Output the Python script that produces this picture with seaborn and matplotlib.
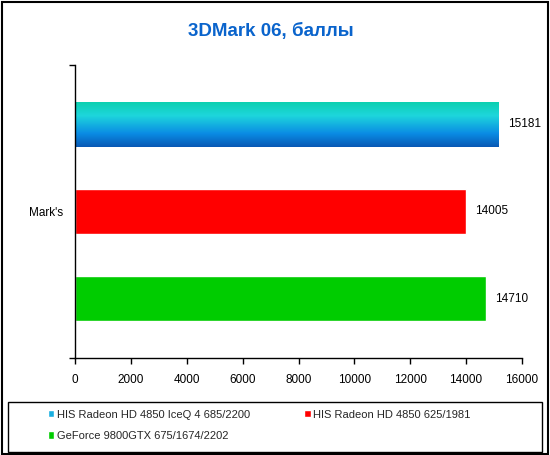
import matplotlib
matplotlib.use("Agg")
import matplotlib.pyplot as plt
import seaborn as sns
import pandas as pd
import numpy as np
from matplotlib.colors import LinearSegmentedColormap
from matplotlib.patches import Rectangle

# ---- data ----
title = "3DMark 06, баллы"
category = ["Mark's"]
cards = ["HIS Radeon HD 4850 IceQ 4 685/2200",
         "HIS Radeon HD 4850 625/1981",
         "GeForce 9800GTX 675/1674/2202"]
scores = [15181, 14005, 14710]
xticks = [0, 2000, 4000, 6000, 8000, 10000, 12000, 14000, 16000]
colors = ["#1AAFE0", "#FF0000", "#00CC00"]

sns.set_theme(style="white")
plt.rcParams['font.family'] = ['Liberation Sans', 'DejaVu Sans']

df = pd.DataFrame({"cat": category * len(cards), "card": cards, "score": scores})

W, H = 550, 455
fig = plt.figure(figsize=(W / 100, H / 100), dpi=100)
l, r, t, b = 75.3, 521.7, 64.7, 358.3
ax = fig.add_axes([l / W, 1 - b / H, (r - l) / W, (b - t) / H])

sns.barplot(data=df, y="cat", x="score", hue="card", hue_order=cards,
            palette=colors, orient="h", width=0.892, gap=0.489,
            saturation=1, errorbar=None, ax=ax)

# gradient on the first (IceQ) bar
cmap = LinearSegmentedColormap.from_list(
    "iceq", [(0.0, "#0CD0B0"), (0.3, "#1ED6DC"), (0.7, "#0A8CE4"), (1.0, "#0858B4")])
grad = np.linspace(0, 1, 256).reshape(-1, 1)
for p in ax.patches:
    if abs(p.get_width() - scores[0]) < 0.5:
        x0, y0, w, h = p.get_x(), p.get_y(), p.get_width(), p.get_height()
        im = ax.imshow(grad, extent=(x0, x0 + w, y0 + h, y0), origin="upper",
                       aspect="auto", cmap=cmap, zorder=p.get_zorder() + 0.1)
        im.set_clip_path(p)

for c in ax.containers:
    ax.bar_label(c, padding=6.5, fontsize=8.5, color="black")

ax.set_xlim(0, 16000)
ax.set_ylim(0.5, -0.5)
ax.set_xticks(xticks)
ax.set_xticklabels([str(v) for v in xticks])
ax.set_xlabel("")
ax.set_ylabel("")
for s in ["top", "right"]:
    ax.spines[s].set_visible(False)
for s in ["left", "bottom"]:
    ax.spines[s].set_color("black")
    ax.spines[s].set_linewidth(1)
ax.tick_params(axis="x", bottom=True, length=4, width=1, color="black",
               pad=7, labelsize=8.5, labelcolor="black")
ax.tick_params(axis="y", left=False, length=0, pad=8.6, labelsize=8.5,
               labelcolor="black")
ax.set_yticks([-0.5, 0.5], minor=True)
ax.tick_params(axis="y", which="minor", left=True, length=4, width=1, color="black")

handles, labels = ax.get_legend_handles_labels()
if ax.get_legend() is not None:
    ax.get_legend().remove()
order = [0, 2, 1]  # fill rows: first row IceQ + 4850, second row 9800GTX
fig.legend([handles[i] for i in order], [labels[i] for i in order],
           ncol=2, loc="upper left",
           bbox_to_anchor=(40 / W, 1 - 402 / H), frameon=False,
           fontsize=8, handlelength=0.6, handleheight=0.6, handletextpad=0.2,
           columnspacing=4.9, labelspacing=1.0, borderpad=0.2)

fig.text(270.5 / W, 1 - 31 / H, title, ha="center", va="center",
         fontsize=13.5, fontweight="bold", color="#0A64CC")

fig.add_artist(Rectangle((8 / W, 1 - 451.7 / H), (541.7 - 8) / W, 50 / H,
                         transform=fig.transFigure, fill=False, ec="black", lw=1))
fig.add_artist(Rectangle((1.5 / W, 1.5 / H), 546 / W, 452 / H,
                         transform=fig.transFigure, fill=False, ec="black", lw=1.5))

fig.savefig("out.png", dpi=100)
